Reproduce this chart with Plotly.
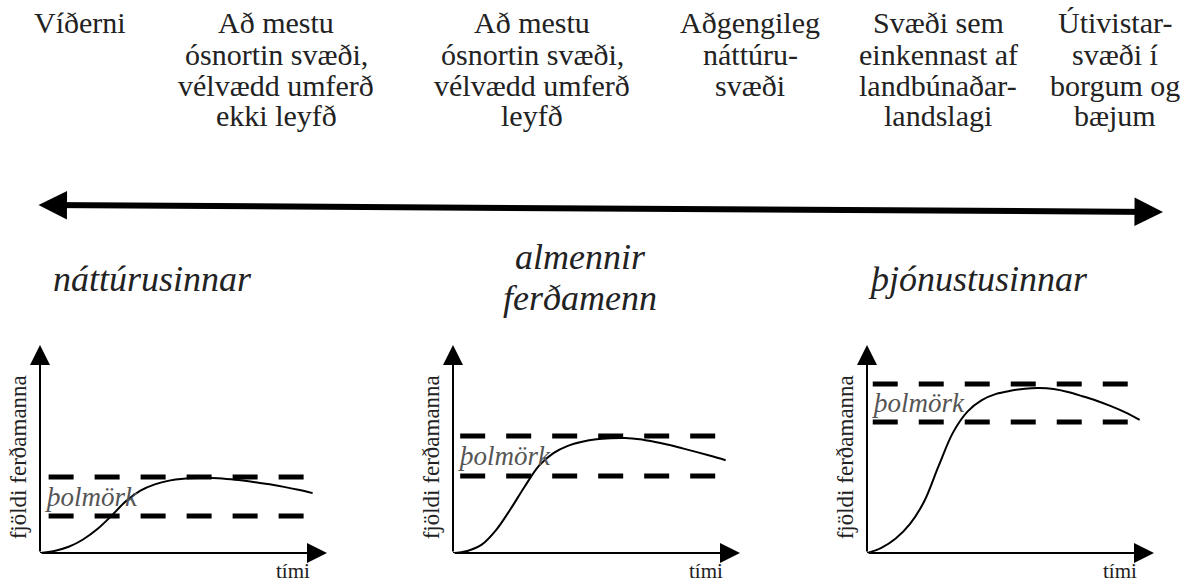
import plotly.graph_objects as go

W, H = 1200, 585
SERIF = "Liberation Serif, Times New Roman, serif"

# --- zones along the scale at the top (one list of lines per zone) ---
zone_lines = [
    ["Víðerni"],
    ["Að mestu", "ósnortin svæði,", "vélvædd umferð", "ekki leyfð"],
    ["Að mestu", "ósnortin svæði,", "vélvædd umferð", "leyfð"],
    ["Aðgengileg", "náttúru-", "svæði"],
    ["Svæði sem", "einkennast af", "landbúnaðar-", "landslagi"],
    ["Útivistar-", "svæði í", "borgum og", "bæjum"],
]
zone_x = [80, 276, 532, 750, 938, 1115]   # pixel centres of the zone columns

# --- tourist types above the three small charts ---
tourist_types = [["náttúrusinnar"], ["almennir", "ferðamenn"], ["þjónustusinnar"]]
tourist_x = [152, 580, 978]

# --- small charts: time (0-100) vs number of tourists (0-100) ---
time_pts = [0, 5, 10, 15, 20, 25, 30, 35, 40, 45, 50, 55, 60, 65, 70, 75, 80, 85, 90, 95]
visitors_nature = [0, 1, 3, 6.5, 11.5, 18, 25, 30, 33, 34.8, 35.7, 36, 36, 35.6, 35, 34, 33, 31.8, 30.4, 28.8]
visitors_general = [0, 1, 4, 11, 21, 32, 42, 48, 51.5, 53.5, 54.7, 55.2, 55.3, 54.7, 53.5, 52, 50.3, 48.5, 46.6, 44.6]
visitors_service = [0, 2.5, 7, 14, 25, 42, 58, 68, 73.5, 76.5, 78, 79, 79.3, 78.8, 77.4, 75.4, 73.2, 70.6, 67.6, 64]
curves = [visitors_nature, visitors_general, visitors_service]

# carrying capacity band (þolmörk) per chart
cap_low = [17.8, 37.0, 63.0]
cap_high = [36.5, 56.3, 81.3]
cap_start = [3, 2.5, 2]
cap_end = [96.5, 96.5, 96]

# pixel frame of each small chart: origin x, width, origin y, top y
panel_x0 = [40, 453, 867]
PANEL_W = 287
ORIGIN_Y = 553
TOP_Y = 345

fig = go.Figure()
annotations = []

for i in range(3):
    n = "" if i == 0 else str(i + 1)
    xa, ya = "x" + n, "y" + n
    fig.update_layout({
        "xaxis" + n: dict(domain=[panel_x0[i] / W, (panel_x0[i] + PANEL_W) / W],
                          range=[0, 100], visible=False, anchor=ya),
        "yaxis" + n: dict(domain=[(H - ORIGIN_Y) / H, (H - TOP_Y) / H],
                          range=[0, 100], visible=False, anchor=xa),
    })
    for lvl in (cap_low[i], cap_high[i]):
        fig.add_trace(go.Scatter(
            x=[cap_start[i], cap_end[i]], y=[lvl, lvl], mode="lines",
            line=dict(color="black", width=5, dash="25px,21px"),
            xaxis=xa, yaxis=ya, hoverinfo="skip"))
    fig.add_trace(go.Scatter(
        x=time_pts, y=curves[i], mode="lines",
        line=dict(color="black", width=2, shape="spline"),
        xaxis=xa, yaxis=ya))

    # axes with arrow heads
    for (hx, hy) in [(100, 0), (0, 100)]:
        annotations.append(dict(
            xref=xa, yref=ya, axref=xa, ayref=ya, x=hx, y=hy, ax=0, ay=0,
            text="", showarrow=True, arrowhead=2, arrowsize=2, arrowwidth=2,
            arrowcolor="black", standoff=0))
    annotations.append(dict(
        xref=xa, yref=ya, x=1, y=(cap_low[i] + cap_high[i]) / 2,
        text="<i>þolmörk</i>", showarrow=False, xanchor="left", yanchor="middle",
        font=dict(size=27, color="#555")))
    annotations.append(dict(
        xref=xa, yref=ya, x=88, y=0, yshift=-4, text="tími", showarrow=False,
        xanchor="center", yanchor="top", font=dict(size=21, color="#222")))
    annotations.append(dict(
        xref=xa, yref=ya, x=0, y=46, xshift=-22, text="fjöldi ferðamanna",
        showarrow=False, textangle=-90, xanchor="center", yanchor="middle",
        font=dict(size=23, color="#222")))

# zone labels, one annotation per line
for cx, lines in zip(zone_x, zone_lines):
    for k, line in enumerate(lines):
        baseline = 33 + 31 * k
        annotations.append(dict(
            xref="paper", yref="paper", x=cx / W, y=1 - (baseline - 10) / H,
            text=line, showarrow=False, xanchor="center", yanchor="middle",
            font=dict(size=30, color="#222")))

# tourist type labels
for cx, lines in zip(tourist_x, tourist_types):
    base0 = 290 if len(lines) == 1 else 268
    for k, line in enumerate(lines):
        baseline = base0 + 41 * k
        annotations.append(dict(
            xref="paper", yref="paper", x=cx / W, y=1 - (baseline - 11) / H,
            text="<i>" + line + "</i>", showarrow=False, xanchor="center",
            yanchor="middle", font=dict(size=36, color="#222")))

# the long double-headed scale arrow
annotations.append(dict(
    xref="paper", yref="paper", x=1163 / W, y=1 - 212 / H,
    axref="pixel", ayref="pixel", ax=37 - 1163, ay=-7,
    text="", showarrow=True, arrowhead=2, startarrowhead=2, arrowside="end+start",
    arrowsize=0.95, startarrowsize=0.95, arrowwidth=6, arrowcolor="black", standoff=0))

fig.update_layout(
    width=W, height=H,
    margin=dict(l=0, r=0, t=0, b=0),
    font=dict(family=SERIF, color="#222"),
    paper_bgcolor="white", plot_bgcolor="white",
    showlegend=False,
    annotations=annotations,
)

# page margin off so the figure fills the window exactly
fig.write_html("out.html", config={"displayModeBar": False},
               post_script="document.body.style.margin='0px';")
